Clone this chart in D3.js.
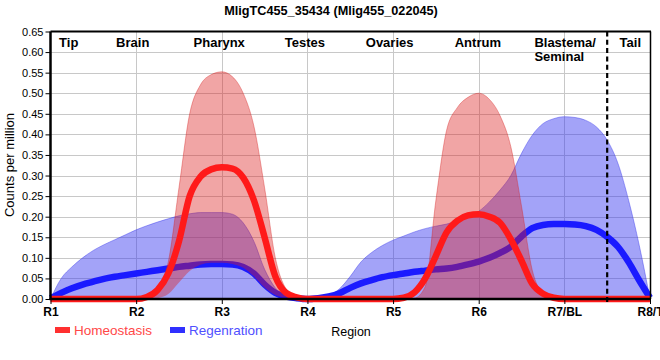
<!DOCTYPE html>
<html><head><meta charset="utf-8">
<script src="https://cdn.jsdelivr.net/npm/d3@7"></script>
<style>
html,body{margin:0;padding:0;background:#fff;}
svg{display:block;font-family:"Liberation Sans",Arial,sans-serif;}
</style></head>
<body><svg id="chart" width="660" height="360"></svg>
<script>
const title = "MligTC455_35434 (Mlig455_022045)";
const xTickPositions = [1, 2, 3, 4, 5, 6, 7, 8];
const xTickLabels = ["R1", "R2", "R3", "R4", "R5", "R6", "R7/BL", "R8/T"];
const yTicks = [0, 0.05, 0.10, 0.15, 0.20, 0.25, 0.30, 0.35, 0.40, 0.45, 0.50, 0.55, 0.60, 0.65];
const regionNames = ["Tip", "Brain", "Pharynx", "Testes", "Ovaries", "Antrum", "Blastema/", "Tail"];
const regionNames2 = ["", "", "", "", "", "", "Seminal", ""];
const regionAnchor = [1.1, 1.96, 2.97, 3.97, 4.96, 5.99, 6.65, 7.77];
const dividerPosition = 7.5;
const seriesNames = ["Homeostasis", "Regenration"];

const positions = [1, 1.125, 1.25, 1.375, 1.5, 1.625, 1.75, 1.875, 2, 2.125, 2.25, 2.375, 2.5, 2.625, 2.75, 2.875,
  3, 3.125, 3.25, 3.375, 3.5, 3.625, 3.75, 3.875, 4, 4.125, 4.25, 4.375, 4.5, 4.625, 4.75, 4.875,
  5, 5.125, 5.25, 5.375, 5.5, 5.625, 5.75, 5.875, 6, 6.125, 6.25, 6.375, 6.5, 6.625, 6.75, 6.875,
  7, 7.125, 7.25, 7.375, 7.5, 7.625, 7.75, 7.875, 8];

const homMean = [0, 0, 0, 0, 0, 0, 0, 0, 0, 0.005, 0.022, 0.062, 0.14, 0.25, 0.297, 0.315,
  0.32, 0.317, 0.295, 0.24, 0.15, 0.055, 0.015, 0.004, 0, 0, 0, 0, 0, 0, 0, 0,
  0, 0.003, 0.016, 0.05, 0.105, 0.162, 0.19, 0.203, 0.206, 0.2, 0.185, 0.145, 0.093, 0.037, 0.013, 0.003,
  0, 0, 0, 0, 0, 0, 0, 0, 0];
const homHi = [0, 0, 0, 0, 0, 0, 0, 0, 0, 0.003, 0.03, 0.09, 0.27, 0.45, 0.52, 0.545,
  0.552, 0.54, 0.5, 0.42, 0.27, 0.1, 0.025, 0.005, 0, 0, 0, 0, 0, 0, 0, 0,
  0, 0, 0.002, 0.03, 0.24, 0.41, 0.465, 0.49, 0.5, 0.485, 0.445, 0.37, 0.225, 0.07, 0.014, 0.002,
  0, 0, 0, 0, 0, 0, 0, 0, 0];
const homLo = [0, 0, 0, 0, 0, 0, 0, 0, 0, 0, 0.002, 0.012, 0.04, 0.068, 0.083, 0.088,
  0.088, 0.085, 0.076, 0.055, 0.028, 0.01, 0.003, 0, 0, 0, 0, 0, 0, 0, 0, 0,
  0, 0, 0, 0, 0, 0, 0, 0, 0, 0, 0, 0, 0, 0, 0, 0,
  0, 0, 0, 0, 0, 0, 0, 0, 0];
const regMean = [0.002, 0.015, 0.026, 0.035, 0.042, 0.049, 0.054, 0.058, 0.062, 0.066, 0.07, 0.074, 0.078, 0.081, 0.084, 0.085,
  0.085, 0.084, 0.078, 0.062, 0.035, 0.015, 0.006, 0.002, 0, 0.002, 0.006, 0.014, 0.027, 0.038, 0.046, 0.053,
  0.058, 0.062, 0.066, 0.069, 0.072, 0.074, 0.078, 0.084, 0.091, 0.1, 0.112, 0.127, 0.152, 0.172, 0.18, 0.182,
  0.182, 0.181, 0.177, 0.168, 0.151, 0.127, 0.09, 0.045, 0.003];
const regHi = [0, 0.05, 0.078, 0.1, 0.118, 0.132, 0.144, 0.156, 0.168, 0.178, 0.187, 0.195, 0.202, 0.207, 0.21, 0.21,
  0.21, 0.206, 0.185, 0.14, 0.072, 0.027, 0.007, 0.001, 0, 0.002, 0.008, 0.025, 0.055, 0.09, 0.113, 0.13,
  0.143, 0.153, 0.163, 0.171, 0.177, 0.182, 0.19, 0.2, 0.213, 0.236, 0.265, 0.3, 0.354, 0.398, 0.426, 0.438,
  0.443, 0.441, 0.434, 0.418, 0.386, 0.33, 0.24, 0.13, 0];
const regLo = [0, 0, 0, 0, 0, 0, 0, 0, 0, 0, 0, 0, 0, 0, 0, 0,
  0, 0, 0, 0, 0, 0, 0, 0, 0, 0, 0, 0, 0, 0, 0, 0,
  0, 0, 0, 0, 0, 0, 0, 0, 0, 0, 0, 0, 0, 0, 0, 0,
  0, 0, 0, 0, 0, 0, 0, 0, 0];

const svg = d3.select("#chart");
const L = 50.5, R = 650, T = 31.5, B = 299;
const x = d3.scaleLinear().domain([1, 8]).range([L, R]);
const y = d3.scaleLinear().domain([0, 0.65]).range([B, T]);

// grid
const grid = svg.append("g").attr("stroke", "#c8c8c8").attr("stroke-width", 1);
grid.selectAll("line.h").data(yTicks.slice(1, -1)).join("line")
  .attr("x1", L).attr("x2", R).attr("y1", d => Math.round(y(d)) + 0.5).attr("y2", d => Math.round(y(d)) + 0.5);
grid.selectAll("line.v").data(xTickPositions.slice(1, -1)).join("line")
  .attr("x1", d => Math.round(x(d)) + 0.5).attr("x2", d => Math.round(x(d)) + 0.5).attr("y1", T).attr("y2", B);

const pts = (lo, hi) => positions.map((p, i) => ({p, lo: lo[i], hi: hi[i]}));
const area = d3.area().x(d => x(d.p)).y0(d => y(d.lo)).y1(d => y(d.hi)).curve(d3.curveMonotoneX);
const upper = d3.line().x(d => x(d.p)).y(d => y(d.hi)).curve(d3.curveMonotoneX);
const line = d3.line().x(d => x(d.p)).y(d => y(d.hi)).curve(d3.curveMonotoneX);

// Regeneration band + line
const regBand = pts(regLo, regHi);
svg.append("path").datum(regBand).attr("d", area).attr("fill", "rgb(50,50,240)").attr("fill-opacity", 0.45);
svg.append("path").datum(regBand).attr("d", upper).attr("fill", "none").attr("stroke", "rgba(60,60,235,0.45)").attr("stroke-width", 1);
svg.append("path").datum(pts(regLo, regMean)).attr("d", line).attr("fill", "none")
  .attr("stroke", "#1a1aff").attr("stroke-width", 6.5).attr("stroke-linecap", "butt");

// Homeostasis band + line
const homBand = pts(homLo, homHi);
svg.append("path").datum(homBand).attr("d", area).attr("fill", "rgb(220,30,30)").attr("fill-opacity", 0.4);
svg.append("path").datum(homBand).attr("d", upper).attr("fill", "none").attr("stroke", "rgba(215,40,40,0.4)").attr("stroke-width", 1);
svg.append("path").datum(pts(homLo, homMean)).attr("d", line).attr("fill", "none")
  .attr("stroke", "#ff1a1a").attr("stroke-width", 6.5).attr("stroke-linecap", "butt");

// frame (top / right)
svg.append("line").attr("x1", L).attr("x2", R + 1).attr("y1", T).attr("y2", T).attr("stroke", "#000").attr("stroke-width", 2);
svg.append("line").attr("x1", R + 0.5).attr("x2", R + 0.5).attr("y1", T).attr("y2", B).attr("stroke", "#000").attr("stroke-width", 1.5);

// axes
const yAxis = svg.append("g").attr("transform", `translate(${L},0)`)
  .call(d3.axisLeft(y).tickValues(yTicks).tickFormat(d3.format(".2f")).tickSize(5).tickPadding(2));
yAxis.select(".domain").attr("stroke-width", 2.5).attr("d", `M0,${T}V${B + 1}`);
yAxis.selectAll(".tick line").attr("stroke-width", 1);
yAxis.selectAll("text").attr("font-size", 11).attr("font-family", "Liberation Sans, Arial, sans-serif").attr("fill", "#000");

const xAxis = svg.append("g").attr("transform", `translate(0,${B})`)
  .call(d3.axisBottom(x).tickValues(xTickPositions).tickFormat((d, i) => xTickLabels[i]).tickSize(5).tickPadding(3));
xAxis.select(".domain").attr("stroke-width", 2.5).attr("d", `M${L - 1},0H${R + 1}`);
xAxis.selectAll("text").attr("font-size", 12).attr("font-weight", "bold").attr("font-family", "Liberation Sans, Arial, sans-serif").attr("fill", "#000");

// divider
svg.append("line").attr("x1", x(dividerPosition)).attr("x2", x(dividerPosition)).attr("y1", T).attr("y2", B + 5)
  .attr("stroke", "#000").attr("stroke-width", 2.2).attr("stroke-dasharray", "5,3.3");

// region labels
const rl = svg.append("g").attr("font-size", 13).attr("font-weight", "bold").attr("fill", "#000");
regionNames.forEach((n, i) => {
  const anchor = (i === 0 || i === 6) ? "start" : "middle";
  rl.append("text").attr("x", x(regionAnchor[i])).attr("y", 47).attr("text-anchor", anchor).text(n);
  if (regionNames2[i]) rl.append("text").attr("x", x(regionAnchor[i])).attr("y", 61).attr("text-anchor", anchor).text(regionNames2[i]);
});

// title
svg.append("text").attr("x", 331).attr("y", 15).attr("text-anchor", "middle").attr("font-size", 12.7).attr("font-weight", "bold").text(title);

// y label
svg.append("text").attr("transform", "translate(14,165) rotate(-90)").attr("text-anchor", "middle").attr("font-size", 13).text("Counts per million");

// x label
svg.append("text").attr("x", 351).attr("y", 336).attr("text-anchor", "middle").attr("font-size", 12.5).text("Region");

// legend
const legendColors = ["#ff3030", "#3030ff"];
const legendTextColors = ["#ff4848", "#5050ff"];
const legendX = [55, 170];
seriesNames.forEach((n, i) => {
  svg.append("rect").attr("x", legendX[i]).attr("y", 327).attr("width", 15).attr("height", 6).attr("fill", legendColors[i]);
  svg.append("text").attr("x", legendX[i] + 19).attr("y", 335).attr("font-size", 13.5).attr("fill", legendTextColors[i]).text(n);
});
</script></body></html>
